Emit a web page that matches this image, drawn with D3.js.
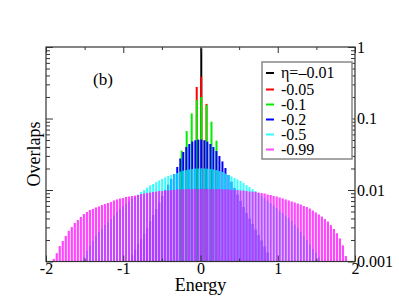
<!DOCTYPE html>
<html><head><meta charset="utf-8">
<script src="https://cdn.jsdelivr.net/npm/d3@7"></script>
<style>body{margin:0;background:#fff}text{font-family:"Liberation Serif","Times New Roman",serif}</style>
</head><body>
<script>
// Shared eigen-energy grid
const energies=[-1.900,-1.861,-1.822,-1.783,-1.744,-1.705,-1.666,-1.627,-1.588,-1.549,-1.510,-1.471,-1.432,-1.393,-1.354,-1.315,-1.276,-1.237,-1.198,-1.159,-1.120,-1.081,-1.042,-1.003,-0.964,-0.925,-0.886,-0.847,-0.808,-0.769,-0.730,-0.691,-0.652,-0.613,-0.574,-0.535,-0.496,-0.457,-0.418,-0.379,-0.340,-0.301,-0.262,-0.223,-0.184,-0.145,-0.106,-0.067,-0.028,0.011,0.050,0.089,0.128,0.167,0.206,0.245,0.284,0.323,0.362,0.401,0.440,0.479,0.518,0.557,0.596,0.635,0.674,0.713,0.752,0.791,0.830,0.869,0.908,0.947,0.986,1.025,1.064,1.103,1.142,1.181,1.220,1.259,1.298,1.337,1.376,1.415,1.454,1.493,1.532,1.571,1.610,1.649,1.688,1.727,1.766,1.805,1.844,1.883];

// eta = -0.99
const magentaV=[0.00109,0.00131,0.00165,0.00194,0.00228,0.00268,0.00303,0.00346,0.00380,0.00419,
0.00462,0.00493,0.00525,0.00543,0.00570,0.00589,0.00617,0.00637,0.00658,0.00680,
0.00714,0.00739,0.00762,0.00773,0.00799,0.00811,0.00824,0.00836,0.00851,0.00879,
0.00894,0.00908,0.00922,0.00937,0.00952,0.00968,0.00968,0.00984,0.00984,0.0100,
0.0100,0.0102,0.0102,0.0102,0.0103,0.0103,0.0103,0.0104,0.0103,0.0103,
0.0104,0.0103,0.0103,0.0103,0.0103,0.0103,0.0102,0.0102,0.0102,0.0100,
0.0100,0.0100,0.00984,0.00984,0.00968,0.00952,0.00952,0.00937,0.00922,0.00908,
0.00894,0.00865,0.00851,0.00824,0.00811,0.00786,0.00762,0.00739,0.00714,0.00691,
0.00669,0.00647,0.00627,0.00597,0.00578,0.00551,0.00517,0.00485,0.00455,0.00426,
0.00392,0.00362,0.00322,0.00285,0.00249,0.00210,0.00168,0.00119];

// eta = -0.5
const cyanV=[null,null,null,null,null,null,null,null,null,null,
0.00116,0.00140,0.00165,0.00194,0.00227,0.00259,0.00285,0.00324,0.00356,0.00393,
0.00433,0.00492,0.00542,0.00588,0.00637,0.00691,0.00748,0.00798,0.00865,0.00937,
0.0100,0.0108,0.0116,0.0121,0.0129,0.0136,0.0143,0.0150,0.0157,0.0162,
0.0167,0.0173,0.0181,0.0187,0.0190,0.0194,0.0197,0.0200,0.0200,0.0201,
0.0200,0.0199,0.0197,0.0194,0.0190,0.0184,0.0179,0.0170,0.0162,0.0155,
0.0147,0.0140,0.0134,0.0125,0.0117,0.0110,0.0103,0.00968,0.00908,0.00838,
0.00773,0.00714,0.00658,0.00607,0.00560,0.00517,0.00477,0.00440,0.00406,0.00368,
0.00329,0.00294,0.00259,0.00227,0.00200,0.00173,0.00150,0.00132,0.00116,
null,null,null,null,null,null,null,null,null];

// eta = -0.2
const blueV=[null,null,null,null,null,null,null,null,null,null,
null,null,null,null,null,null,null,null,null,null,
null,null,null,null,null,null,
0.00123,0.00147,0.00176,0.00206,0.00246,0.00294,0.00368,0.00447,0.00542,0.00668,
0.00824,0.0100,0.0119,0.0143,0.0167,0.0210,0.0276,0.0340,0.0399,0.0440,
0.0477,0.0496,0.0507,0.0508,0.0497,0.0474,0.0440,0.0399,0.0351,0.0299,
0.0251,0.0203,0.0162,0.0131,0.0107,0.00865,0.00702,0.00578,0.00477,0.00399,
0.00334,0.00280,0.00235,0.00197,0.00162,0.00134,
null,null,null,null,null,null,null,null,null,null,
null,null,null,null,null,null,null,null,null,null,
null,null,null,null,null,null];

// eta = -0.1
const greenE=[-0.243,-0.179,-0.114,-0.049,0.010,0.078,0.142,0.207];
const greenV=[0.0355,0.0668,0.118,0.182,0.200,0.155,0.0902,0.0489];
// eta = -0.05
const redE=[-0.049,0.010,0.078];
const redV=[0.276,0.384,0.160];
// eta = -0.01
const blackE=[0.010];
const blackV=[0.96];

const legendLabels=["η=–0.01","-0.05","-0.1","-0.2","-0.5","-0.99"];
const xTicks=[-2,-1,0,1,2];
const xMinor=[-1.5,-0.5,0.5,1.5];
const yTicks=[1,0.1,0.01,0.001];
const yTickLabels=["1","0.1","0.01","0.001"];

const W=399,H=308;
const L=46,R=355,T=47,B=261.5;
const svg=d3.select("body").append("svg").attr("width",W).attr("height",H);
const x=d3.scaleLinear().domain([-2,2]).range([L,R]);
const y=d3.scaleLog().domain([0.001,1]).range([B,T]);

const series=[
 {E:blackE,V:blackV,color:"#000000",w:2,op:1},
 {E:redE,V:redV,color:"#ff0000",w:2,op:1},
 {E:greenE,V:greenV,color:"#00ee00",w:2,op:1},
 {E:energies,V:blueV,color:"#0000ff",w:2,op:1},
 {E:energies,V:cyanV,color:"#00ffff",w:2,op:0.8},
 {E:energies,V:magentaV,color:"#ff00ff",w:2.2,op:0.72}
];
const plot=svg.append("g");
series.forEach(s=>{
  const data=s.E.map((e,i)=>({e,v:s.V[i]})).filter(d=>d.v!=null&&d.v>0.001);
  plot.append("g").selectAll("line").data(data).join("line")
    .attr("x1",d=>x(d.e)).attr("x2",d=>x(d.e))
    .attr("y1",y(0.001)).attr("y2",d=>y(d.v))
    .attr("stroke",s.color).attr("stroke-width",s.w).attr("stroke-opacity",s.op);
});

// frame
svg.append("rect").attr("x",L).attr("y",T).attr("width",R-L).attr("height",B-T)
  .attr("fill","none").attr("stroke","#333").attr("stroke-width",1.2);

const axCol="#333";
function style(g){g.select(".domain").remove();g.selectAll("line").attr("stroke",axCol);g.selectAll("text").attr("font-size",16).attr("fill","#000").style("font-family",'"Liberation Serif",serif');}
const fmtX=d=>d<0?"-"+Math.abs(d):String(d);
svg.append("g").attr("transform",`translate(0,${B})`).call(d3.axisBottom(x).tickValues(xTicks).tickSize(-6).tickPadding(1.5).tickFormat(fmtX)).call(style);
svg.append("g").attr("transform",`translate(0,${B})`).call(d3.axisBottom(x).tickValues(xMinor).tickSize(-3).tickFormat("")).call(style);
svg.append("g").attr("transform",`translate(0,${T})`).call(d3.axisTop(x).tickValues(xTicks).tickSize(-6).tickFormat("")).call(style);
svg.append("g").attr("transform",`translate(0,${T})`).call(d3.axisTop(x).tickValues(xMinor).tickSize(-3).tickFormat("")).call(style);

const yMinor=[];
[0.001,0.01,0.1].forEach(dec=>{for(let k=2;k<=9;k++)yMinor.push(dec*k);});
svg.append("g").attr("transform",`translate(${L},0)`).call(d3.axisLeft(y).tickValues(yTicks).tickSize(-7).tickFormat("")).call(style);
svg.append("g").attr("transform",`translate(${L},0)`).call(d3.axisLeft(y).tickValues(yMinor).tickSize(-4).tickFormat("")).call(style);
svg.append("g").attr("transform",`translate(${R},0)`).call(d3.axisRight(y).tickValues(yTicks).tickSize(-7).tickPadding(2).tickFormat((d,i)=>yTickLabels[i])).call(style);
svg.append("g").attr("transform",`translate(${R},0)`).call(d3.axisRight(y).tickValues(yMinor).tickSize(-4).tickFormat("")).call(style);

// axis titles
svg.append("text").attr("x",200.5).attr("y",291).attr("text-anchor","middle").attr("font-size",18).text("Energy");
svg.append("text").attr("transform","translate(40,154) rotate(-90)").attr("text-anchor","middle").attr("font-size",18).text("Overlaps");
svg.append("text").attr("x",103).attr("y",85).attr("text-anchor","middle").attr("font-size",17).text("(b)");

// legend
const lg=svg.append("g");
lg.append("rect").attr("x",262).attr("y",62).attr("width",90).attr("height",97)
  .attr("fill","#fff").attr("stroke","#888").attr("stroke-width",1.5);
const rowY=[73,89.5,104.5,119.5,134.5,149.5];
series.forEach((s,i)=>{
  lg.append("line").attr("x1",266).attr("x2",274).attr("y1",rowY[i]).attr("y2",rowY[i])
    .attr("stroke",s.color).attr("stroke-width",2).attr("stroke-opacity",s.op);
  lg.append("text").attr("x",281).attr("y",rowY[i]).attr("dy","0.33em").attr("font-size",16).text(legendLabels[i]);
});
</script>
</body></html>
